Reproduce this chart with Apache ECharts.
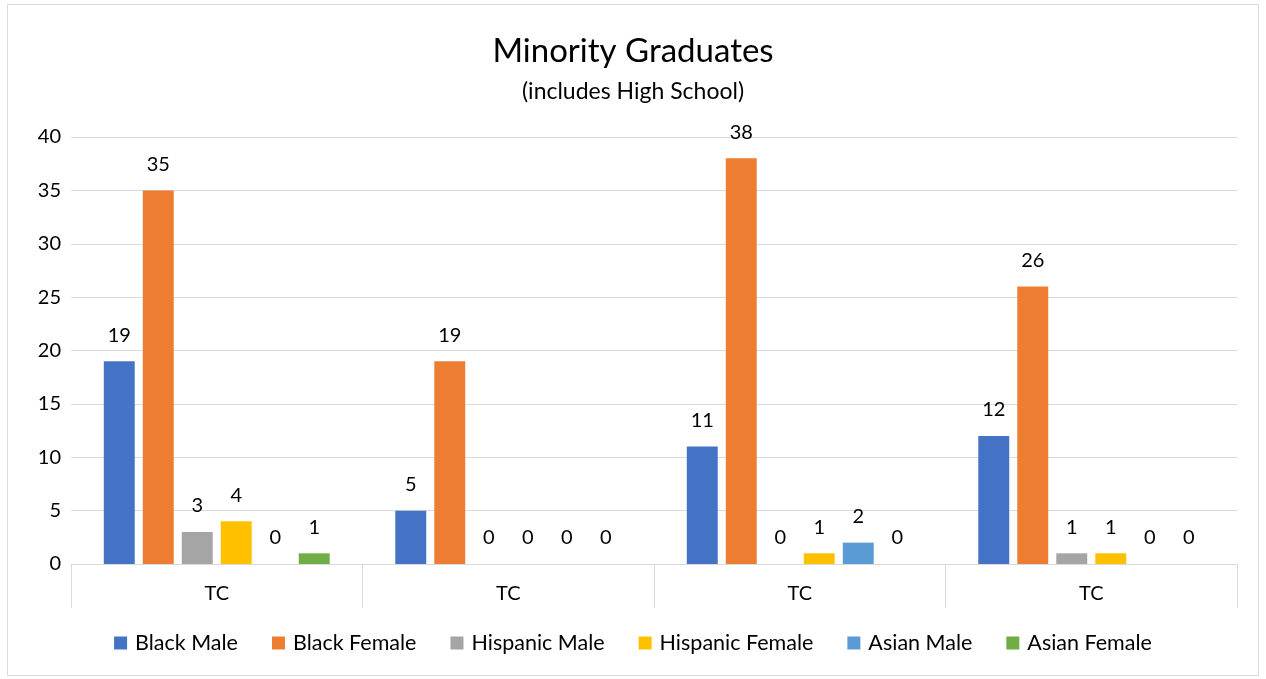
<!DOCTYPE html>
<html>
<head>
<meta charset="utf-8">
<script src="https://cdn.jsdelivr.net/npm/echarts@6/dist/echarts.min.js"></script>
<style>
html,body{margin:0;padding:0;background:#fff;}
#chart{width:1266px;height:679px;}
</style>
</head>
<body>
<div id="chart"></div>
<script>
const categories = ['TC', 'TC', 'TC', 'TC'];
const seriesNames = ['Black Male', 'Black Female', 'Hispanic Male', 'Hispanic Female', 'Asian Male', 'Asian Female'];
const blackMale = [19, 5, 11, 12];
const blackFemale = [35, 19, 38, 26];
const hispanicMale = [3, 0, 0, 1];
const hispanicFemale = [4, 0, 1, 1];
const asianMale = [0, 0, 2, 0];
const asianFemale = [1, 0, 0, 0];
const colors = ['#4472C4', '#ED7D31', '#A5A5A5', '#FFC000', '#5B9BD5', '#70AD47'];

const FONT = 'Lato';
const allData = [blackMale, blackFemale, hispanicMale, hispanicFemale, asianMale, asianFemale];

const chart = echarts.init(document.getElementById('chart'));
chart.setOption({
  animation: false,
  color: colors,
  textStyle: { fontFamily: FONT },
  title: {
    text: 'Minority Graduates',
    subtext: '(includes High School)',
    left: 'center',
    top: 30,
    itemGap: 12,
    textStyle: { fontFamily: FONT, fontSize: 33, fontWeight: 'normal', color: '#000' },
    subtextStyle: { fontFamily: FONT, fontSize: 23, color: '#000' }
  },
  graphic: [{
    type: 'rect',
    shape: { x: 7.5, y: 4.5, width: 1251, height: 671 },
    style: { fill: 'none', stroke: '#d9d9d9', lineWidth: 1 },
    silent: true
  }],
  legend: {
    bottom: 20,
    left: 'center',
    itemWidth: 13,
    itemHeight: 13,
    itemGap: 34,
    icon: 'rect',
    textStyle: { fontFamily: FONT, fontSize: 21.5, color: '#000', padding: [0, 0, 0, 3] },
    data: seriesNames
  },
  grid: { left: 71, right: 29, top: 137, bottom: 115, containLabel: false },
  xAxis: {
    type: 'category',
    data: categories,
    axisLine: { lineStyle: { color: '#d9d9d9', width: 1 } },
    axisTick: { show: true, length: 44, interval: 0, lineStyle: { color: '#d9d9d9' } },
    axisLabel: { fontFamily: FONT, fontSize: 20, color: '#000', margin: 20 }
  },
  yAxis: {
    type: 'value',
    min: 0,
    max: 40,
    interval: 5,
    axisLine: { show: false },
    axisTick: { show: false },
    axisLabel: { fontFamily: FONT, fontSize: 20, color: '#000', margin: 10 },
    splitLine: { lineStyle: { color: '#d9d9d9', width: 1 } }
  },
  series: seriesNames.map((name, i) => ({
    name: name,
    type: 'bar',
    data: allData[i],
    barGap: '26%',
    barCategoryGap: '22.5%',
    label: {
      show: true,
      position: 'top',
      distance: 16,
      fontFamily: FONT,
      fontSize: 20,
      color: '#000'
    }
  }))
});
</script>
</body>
</html>
